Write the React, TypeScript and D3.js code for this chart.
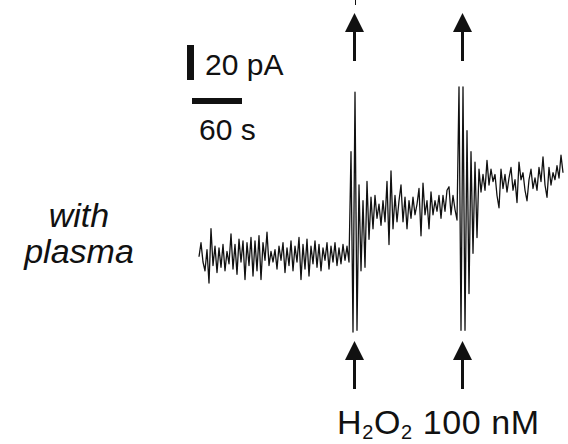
import React from "react";
import * as d3 from "d3";

const sampleIntervalS = 2.4;

// Membrane current (pA, relative to the initial baseline), one sample per interval
const baselineSegment = [
  -1, 7, -4, -9, 3, -16, 15, -6, 5, -10, 4, -7, 6, -9, 2, -5, 12, -8, 6, -11,
  9, -4, 8, -14, 7, -6, 10, -12, 8, -9, 11, -14, 7, -3, 13, -6, 2, -4, 3, -8,
  5, -3, 7, -10, 4, -6, 8, -9, 5, -4, 10, -14, 6, -8, 9, -12, 5, -5, 8, -7,
  6, -9, 4, -3, 7, -8, 5, -4, 7, -6, 4, -5, 6, -3, 5, -4,
];
const firstResponse = [59, -44, 93, -43, 40, -9, 31, -7, 42, 9, 33, 15, 34, 21];
const intermediateSegment = [
  29, 17, 31, 19, 42, 6, 48, 15, 34, 19, 31, 40, 19, 33, 15, 31, 21, 33, 23, 29,
  38, 11, 41, 23, 31, 15, 36, 23, 31, 25, 34, 21, 34, 25, 37, 39, 23, 34, 26, 20,
];
const secondResponse = [96, -43, 96, -43, 71, -22, 59, 1, 53, 10, 49, 36];
const finalSegment = [
  46, 37, 54, 40, 49, 42, 46, 34, 27, 49, 38, 46, 36, 44, 50, 37, 43, 30, 53, 43,
  47, 37, 31, 43, 49, 38, 44, 37, 50, 42, 56, 40, 33, 50, 40, 47, 43, 51, 44, 57, 47,
];

// Stimulus times (s) for H2O2 application arrows
const stimulusTimesS = [187.2, 316.8];

// Scale bar sizes
const scaleBarCurrentPA = 20;
const scaleBarTimeS = 60;

const currentPA = [
  ...baselineSegment,
  ...firstResponse,
  ...intermediateSegment,
  ...secondResponse,
  ...finalSegment,
];

const FONT = "'Liberation Sans', Arial, Helvetica, sans-serif";

function Arrow({ cx, tip }: { cx: number; tip: number }) {
  const headW = 9.5;
  const headH = 19;
  return (
    <g fill="#111">
      <polygon points={`${cx},${tip} ${cx - headW},${tip + headH} ${cx + headW},${tip + headH}`} />
      <rect x={cx - 1.5} y={tip + headH - 2} width={3} height={31} />
    </g>
  );
}

export default function App() {
  const width = 568;
  const height = 444;
  const totalT = (currentPA.length - 1) * sampleIntervalS;

  const x = d3.scaleLinear().domain([0, totalT]).range([199, 563]);
  const y = d3.scaleLinear().domain([-50, 100]).range([342.5, 80]);

  const line = d3
    .line<number>()
    .x((_, i) => x(i * sampleIntervalS))
    .y((d) => y(d));

  const barH = y(0) - y(scaleBarCurrentPA);
  const barW = x(scaleBarTimeS) - x(0);

  return (
    <svg
      width={width}
      height={height}
      viewBox={`0 0 ${width} ${height}`}
      style={{ position: "absolute", left: 0, top: 0, background: "#fff" }}
    >
      <rect width={width} height={height} fill="#fff" />

      {/* scale bars */}
      <rect x={187} y={45} width={7} height={barH} fill="#111" />
      <text x={205} y={75} fontFamily={FONT} fontSize={30} fill="#111">
        20 pA
      </text>
      <rect x={192} y={98} width={barW} height={6} fill="#111" />
      <text x={199} y={140} fontFamily={FONT} fontSize={30} fill="#111">
        60 s
      </text>

      {/* label */}
      <text
        x={79}
        y={227}
        textAnchor="middle"
        fontFamily={FONT}
        fontStyle="italic"
        fontSize={34}
        fill="#111"
      >
        with
      </text>
      <text
        x={79}
        y={263}
        textAnchor="middle"
        fontFamily={FONT}
        fontStyle="italic"
        fontSize={34}
        fill="#111"
      >
        plasma
      </text>

      {/* small trace remnant at top */}
      <line x1={x(stimulusTimesS[0]) + 0.5} x2={x(stimulusTimesS[0]) + 0.5} y1={0} y2={5} stroke="#111" strokeWidth={1} />

      {/* trace */}
      <path d={line(currentPA) || ""} fill="none" stroke="#111" strokeWidth={1.3} strokeLinejoin="round" />

      {/* arrows */}
      {stimulusTimesS.map((t, i) => (
        <g key={i}>
          <Arrow cx={x(t) - 0.5} tip={13} />
          <Arrow cx={x(t) - 0.5} tip={341} />
        </g>
      ))}

      {/* stimulus label */}
      <text x={337} y={434} fontFamily={FONT} fontSize={34} letterSpacing={0.6} fill="#111">
        H
        <tspan fontSize={20} dy={5}>2</tspan>
        <tspan dy={-5}>O</tspan>
        <tspan fontSize={20} dy={5}>2</tspan>
        <tspan dy={-5}> 100 nM</tspan>
      </text>
    </svg>
  );
}
